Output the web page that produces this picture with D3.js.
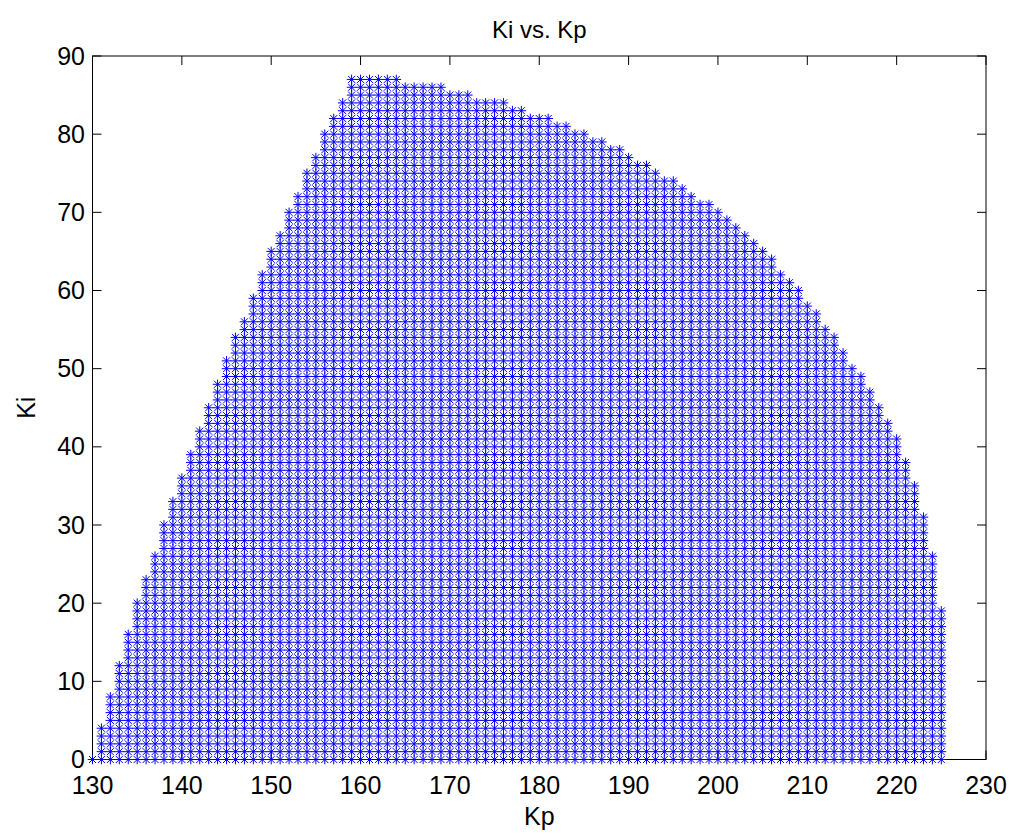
<!DOCTYPE html>
<html>
<head>
<meta charset="utf-8">
<script src="https://d3js.org/d3.v7.min.js"></script>
<style>
  body { margin: 0; background: #fff; }
  svg text { font-family: "Liberation Sans", Arial, Helvetica, sans-serif; fill: #000; }
</style>
</head>
<body>
<div id="chart"></div>
<script>
"use strict";

// grid columns (Kp) and the highest Ki kept in each column (lowest Ki is 0)
var kpValues = [130, 131, 132, 133, 134, 135, 136, 137, 138, 139,
                140, 141, 142, 143, 144, 145, 146, 147, 148, 149,
                150, 151, 152, 153, 154, 155, 156, 157, 158, 159,
                160, 161, 162, 163, 164, 165, 166, 167, 168, 169,
                170, 171, 172, 173, 174, 175, 176, 177, 178, 179,
                180, 181, 182, 183, 184, 185, 186, 187, 188, 189,
                190, 191, 192, 193, 194, 195, 196, 197, 198, 199,
                200, 201, 202, 203, 204, 205, 206, 207, 208, 209,
                210, 211, 212, 213, 214, 215, 216, 217, 218, 219,
                220, 221, 222, 223, 224, 225];
var kiMax = [0, 4, 8, 12, 16, 20, 23, 26, 30, 33,
             36, 39, 42, 45, 48, 51, 54, 56, 59, 62,
             65, 67, 70, 72, 75, 77, 80, 82, 84, 87,
             87, 87, 87, 87, 87, 86, 86, 86, 86, 86,
             85, 85, 85, 84, 84, 84, 84, 83, 83, 82,
             82, 82, 81, 81, 80, 80, 79, 79, 78, 78,
             77, 76, 76, 75, 74, 74, 73, 72, 71, 71,
             70, 69, 68, 67, 66, 65, 64, 62, 61, 60,
             58, 57, 55, 54, 52, 50, 49, 47, 45, 43,
             41, 38, 35, 31, 26, 19];
var kiStep = 1;

var xTicks = [130, 140, 150, 160, 170, 180, 190, 200, 210, 220, 230];
var yTicks = [0, 10, 20, 30, 40, 50, 60, 70, 80, 90];

var W = 1016, H = 838;
var plotLeft = 92.5, plotRight = 986, plotTop = 56, plotBottom = 759.5;
var tickLen = 9;

var svg = d3.select("#chart").append("svg")
    .attr("width", W).attr("height", H);

var x = d3.scaleLinear().domain([130, 230]).range([plotLeft, plotRight]);
var y = d3.scaleLinear().domain([0, 90]).range([plotBottom, plotTop]);

// build the point list from the column ranges
var points = [];
kpValues.forEach(function (kp, i) {
    for (var ki = 0; ki <= kiMax[i]; ki += kiStep) {
        points.push({ kp: kp, ki: ki });
    }
});

// axes box
svg.append("rect")
    .attr("x", plotLeft).attr("y", plotTop)
    .attr("width", plotRight - plotLeft).attr("height", plotBottom - plotTop)
    .attr("fill", "none").attr("stroke", "#000").attr("stroke-width", 1);

// ticks (inside, on all four sides)
var ticks = svg.append("g").attr("stroke", "#000").attr("stroke-width", 1);
xTicks.forEach(function (t) {
    ticks.append("line").attr("x1", x(t)).attr("x2", x(t))
        .attr("y1", plotBottom).attr("y2", plotBottom - tickLen);
    ticks.append("line").attr("x1", x(t)).attr("x2", x(t))
        .attr("y1", plotTop).attr("y2", plotTop + tickLen);
});
yTicks.forEach(function (t) {
    ticks.append("line").attr("y1", y(t)).attr("y2", y(t))
        .attr("x1", plotLeft).attr("x2", plotLeft + tickLen);
    ticks.append("line").attr("y1", y(t)).attr("y2", y(t))
        .attr("x1", plotRight).attr("x2", plotRight - tickLen);
});

// tick labels
svg.selectAll("text.xt").data(xTicks).enter().append("text")
    .attr("class", "xt")
    .attr("x", function (d) { return x(d); })
    .attr("y", 794)
    .attr("text-anchor", "middle")
    .style("font-size", "25px")
    .text(function (d) { return d; });

svg.selectAll("text.yt").data(yTicks).enter().append("text")
    .attr("class", "yt")
    .attr("x", 85)
    .attr("y", function (d) { return y(d) + 8.5; })
    .attr("text-anchor", "end")
    .style("font-size", "25px")
    .text(function (d) { return d; });

// star markers
var r = 4.8, d = 3.5;
var star = "M" + (-r) + ",0H" + r + "M0," + (-r) + "V" + r +
           "M" + (-d) + "," + (-d) + "L" + d + "," + d +
           "M" + (-d) + "," + d + "L" + d + "," + (-d);

svg.append("g").selectAll("path").data(points).enter().append("path")
    .attr("transform", function (p) { return "translate(" + x(p.kp) + "," + y(p.ki) + ")"; })
    .attr("d", star)
    .attr("fill", "none")
    .attr("stroke", "#0000ff")
    .attr("stroke-width", 1);

// title and axis labels
svg.append("text")
    .attr("x", (plotLeft + plotRight) / 2).attr("y", 38)
    .attr("text-anchor", "middle")
    .style("font-size", "24px")
    .text("Ki vs. Kp");

svg.append("text")
    .attr("x", (plotLeft + plotRight) / 2).attr("y", 825)
    .attr("text-anchor", "middle")
    .style("font-size", "25px")
    .text("Kp");

svg.append("text")
    .attr("transform", "translate(35," + ((plotTop + plotBottom) / 2) + ") rotate(-90)")
    .attr("text-anchor", "middle")
    .style("font-size", "25px")
    .text("Ki");
</script>
</body>
</html>
